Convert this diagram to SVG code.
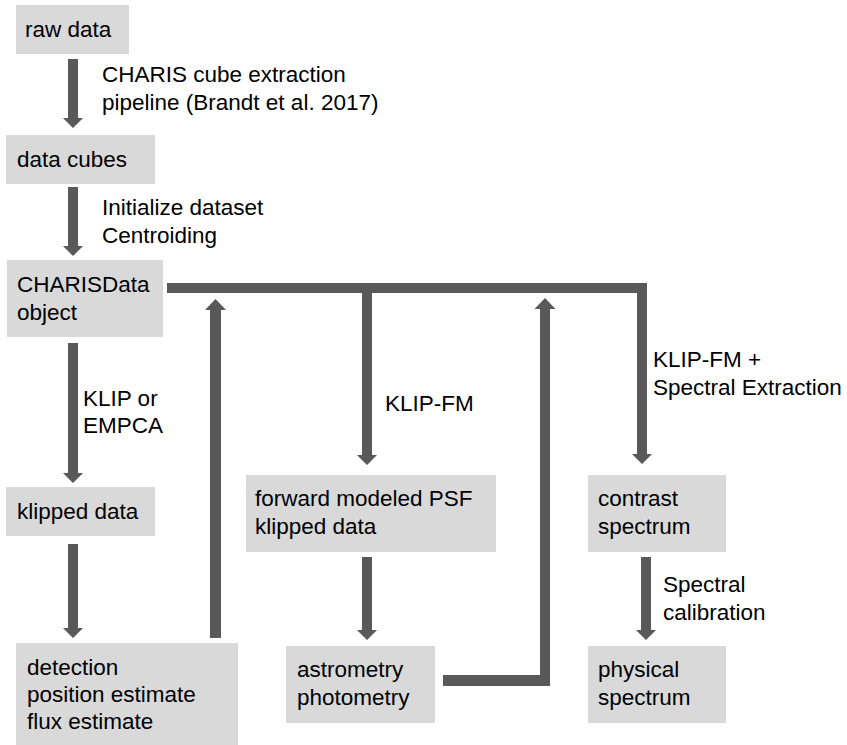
<svg xmlns="http://www.w3.org/2000/svg" width="847" height="745" viewBox="0 0 847 745">
<style>
.box{fill:#d9d9d9}
.t{font-family:"Liberation Sans",Arial,sans-serif;font-size:22.5px;fill:#000}
.c{fill:#595959}
</style>
<rect width="847" height="745" fill="#fff"/>
<g id="raw-data"><rect class="box" x="16" y="5" width="113" height="49"/><text class="t" x="25" y="37">raw data</text></g>
<g id="data-cubes"><rect class="box" x="6" y="135" width="149" height="49"/><text class="t" x="17" y="167">data cubes</text></g>
<g id="charisdata"><rect class="box" x="7" y="260" width="156" height="77"/><text class="t" x="17" y="292">CHARISData</text><text class="t" x="17" y="320">object</text></g>
<g id="klipped-data"><rect class="box" x="6" y="487" width="149" height="49"/><text class="t" x="17" y="519">klipped data</text></g>
<g id="detection"><rect class="box" x="16" y="643" width="222" height="102"/><text class="t" x="27" y="675">detection</text><text class="t" x="27" y="702">position estimate</text><text class="t" x="27" y="729">flux estimate</text></g>
<g id="fm-psf"><rect class="box" x="246" y="475" width="250" height="77"/><text class="t" x="255" y="506">forward modeled PSF</text><text class="t" x="255" y="534">klipped data</text></g>
<g id="astrometry"><rect class="box" x="286" y="646" width="149" height="77"/><text class="t" x="297" y="677">astrometry</text><text class="t" x="297" y="705">photometry</text></g>
<g id="contrast"><rect class="box" x="588" y="475" width="138" height="77"/><text class="t" x="598" y="506">contrast</text><text class="t" x="598" y="534">spectrum</text></g>
<g id="physical"><rect class="box" x="588" y="646" width="138" height="77"/><text class="t" x="598" y="677">physical</text><text class="t" x="598" y="705">spectrum</text></g>
<g id="connectors">
<polygon class="c" points="68,59 78,59 78,118 83,118 73,128 63,118 68,118"/>
<polygon class="c" points="68,187 78,187 78,246 83,246 73,256 63,246 68,246"/>
<polygon class="c" points="68,343 78,343 78,473 83,473 73,483 63,473 68,473"/>
<polygon class="c" points="68,544 78,544 78,628 83,628 73,638 63,628 68,628"/>
<polygon class="c" points="210,638 221,638 221,310 226,310 215.5,299 205,310 210,310"/>
<polygon class="c" points="167,283 647,283 647,454 652,454 642,464 632,454 637,454 637,293 167,293"/>
<polygon class="c" points="362,293 372,293 372,455 377,455 367,465 357,455 362,455"/>
<polygon class="c" points="362,557 372,557 372,630 377,630 367,640 357,630 362,630"/>
<polygon class="c" points="443,675 540,675 540,309 534.5,309 545,298 555.5,309 550,309 550,686 443,686"/>
<polygon class="c" points="641,557 651,557 651,630 656,630 646,640 636,630 641,630"/>
</g>
<g id="labels">
<text class="t" x="102" y="82">CHARIS cube extraction</text>
<text class="t" x="102" y="110">pipeline (Brandt et al. 2017)</text>
<text class="t" x="102" y="215">Initialize dataset</text>
<text class="t" x="102" y="243">Centroiding</text>
<text class="t" x="83" y="406">KLIP or</text>
<text class="t" x="83" y="433">EMPCA</text>
<text class="t" x="385" y="411">KLIP-FM</text>
<text class="t" x="653" y="367">KLIP-FM +</text>
<text class="t" x="653" y="395">Spectral Extraction</text>
<text class="t" x="663" y="592">Spectral</text>
<text class="t" x="663" y="620">calibration</text>
</g>
</svg>
